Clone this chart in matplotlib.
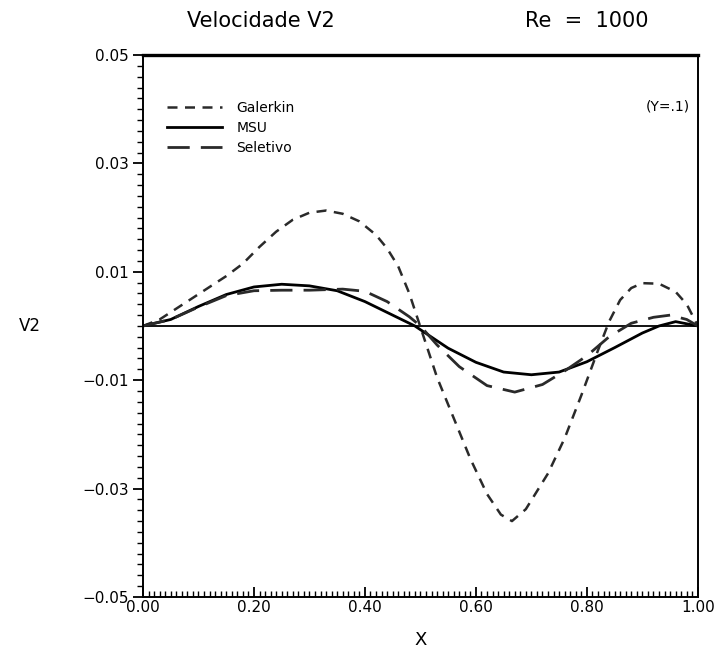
import numpy as np
import matplotlib
matplotlib.use("Agg")
import matplotlib.pyplot as plt
from matplotlib.ticker import MultipleLocator

# Galerkin (tracejado curto)
x_gal = [0.0, 0.03, 0.06, 0.09, 0.12, 0.15, 0.18, 0.21, 0.24, 0.27, 0.30, 0.33,
         0.36, 0.39, 0.42, 0.44, 0.46, 0.48, 0.50, 0.53, 0.56, 0.59, 0.62, 0.645,
         0.665, 0.69, 0.73, 0.76, 0.79, 0.82, 0.84, 0.86, 0.88, 0.90, 0.93, 0.96,
         0.98, 1.0]
y_gal = [0.0, 0.0012, 0.0032, 0.0052, 0.0072, 0.0092, 0.0115, 0.0146, 0.0174,
         0.0196, 0.0209, 0.0213, 0.0207, 0.0193, 0.0168, 0.0143, 0.0110, 0.0060,
         -0.0002, -0.0095, -0.0170, -0.0245, -0.0310, -0.0348, -0.0360, -0.0338,
         -0.0272, -0.0207, -0.0128, -0.0045, 0.0008, 0.0048, 0.0070, 0.0079,
         0.0078, 0.0063, 0.0040, 0.0]

# MSU (continua)
x_msu = [0.0, 0.05, 0.10, 0.15, 0.20, 0.25, 0.30, 0.35, 0.40, 0.45, 0.49, 0.55,
         0.60, 0.65, 0.70, 0.75, 0.80, 0.85, 0.90, 0.93, 0.96, 1.0]
y_msu = [0.0, 0.0012, 0.0036, 0.0058, 0.0072, 0.0077, 0.0074, 0.0065, 0.0045,
         0.0020, 0.0, -0.0041, -0.0067, -0.0085, -0.0090, -0.0085, -0.0066,
         -0.0040, -0.0013, 0.0, 0.0008, 0.0]

# Seletivo (tracejado longo)
x_sel = [0.0, 0.05, 0.10, 0.15, 0.20, 0.25, 0.30, 0.33, 0.36, 0.40, 0.44, 0.48,
         0.50, 0.53, 0.57, 0.62, 0.67, 0.72, 0.76, 0.80, 0.84, 0.88, 0.92, 0.95,
         0.98, 1.0]
y_sel = [0.0, 0.0012, 0.0035, 0.0056, 0.0065, 0.0066, 0.0066, 0.0067, 0.0068,
         0.0064, 0.0045, 0.0017, 0.0, -0.0035, -0.0075, -0.0110, -0.0122,
         -0.0108, -0.0083, -0.0055, -0.0020, 0.0005, 0.0016, 0.0020, 0.0012, 0.0]

xticks = [0.0, 0.2, 0.4, 0.6, 0.8, 1.0]
yticks = [-0.05, -0.03, -0.01, 0.01, 0.03, 0.05]

fig = plt.figure(figsize=(7.15, 6.53), dpi=100)
ax = fig.add_axes([0.2, 0.0858, 0.776, 0.83])

cor = "#2a2a2a"
ax.axhline(0, color="black", lw=1.3)
ax.plot(x_gal, y_gal, color=cor, lw=1.8, dashes=(4, 3), label="Galerkin")
ax.plot(x_msu, y_msu, color="black", lw=2.0, label="MSU")
ax.plot(x_sel, y_sel, color=cor, lw=2.0, dashes=(8, 4), label="Seletivo")

ax.set_xlim(0, 1)
ax.set_ylim(-0.05, 0.05)
ax.set_xticks(xticks)
ax.set_xticklabels([f"{v:.2f}" for v in xticks])
ax.set_yticks(yticks)
ax.set_yticklabels([f"{v:.2f}" if v > 0 else f"\u2212{abs(v):.2f}" for v in yticks])
ax.xaxis.set_minor_locator(MultipleLocator(0.01))
ax.yaxis.set_minor_locator(MultipleLocator(0.002))
ax.tick_params(axis="x", which="major", direction="in", length=7, width=1.3,
               labelsize=11, pad=2)
ax.tick_params(axis="x", which="minor", direction="in", length=4, width=1.0)
ax.tick_params(axis="y", which="major", direction="out", length=7, width=1.3,
               labelsize=11, pad=3)
ax.tick_params(axis="y", which="minor", direction="out", length=4, width=1.0)

for s in ax.spines.values():
    s.set_linewidth(1.4)
ax.spines["top"].set_linewidth(2.4)

ax.set_xlabel("X", fontsize=13, labelpad=12)
ax.set_ylabel("V2", fontsize=12, rotation=0, labelpad=38, va="center")

fig.text(0.365, 0.968, "Velocidade V2", fontsize=15, ha="center", va="center")
fig.text(0.82, 0.968, "Re  =  1000", fontsize=15, ha="center", va="center")
ax.text(0.985, 0.905, "(Y=.1)", transform=ax.transAxes, fontsize=10,
        ha="right", va="center")

leg = ax.legend(loc="upper left", bbox_to_anchor=(0.033, 0.926), frameon=False,
                fontsize=10, handlelength=4.0, handletextpad=1.0,
                labelspacing=0.45, borderaxespad=0)

fig.savefig("out.png", dpi=100)
